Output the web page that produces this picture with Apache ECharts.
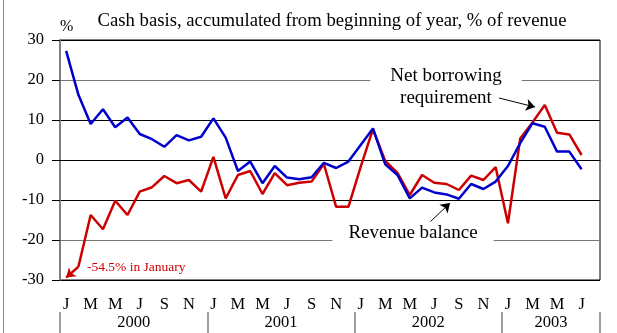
<!DOCTYPE html>
<html>
<head>
<meta charset="utf-8">
<script src="https://cdn.jsdelivr.net/npm/echarts@6/dist/echarts.min.js"></script>
<style>
  html, body { margin: 0; padding: 0; background: #fff; }
  #chart { width: 617px; height: 333px; }
</style>
</head>
<body>
<div id="chart"></div>
<script>
// categories: monthly, Jan 2000 .. Aug 2003 (last month has no data)
const years = ['2000', '2001', '2002', '2003']
const monthLetters = ['J', 'F', 'M', 'A', 'M', 'J', 'J', 'A', 'S', 'O', 'N', 'D']
const monthCount = 44

// % of revenue, accumulated from beginning of year
const revenueBalance = [
  27.3, 16.3, 9.0, 12.7, 8.2, 10.6, 6.5, 5.2, 3.3, 6.2, 4.9, 5.8,
  10.4, 5.6, -2.75, -0.4, -5.8, -1.5, -4.4, -4.8, -4.3, -0.7, -2.0, -0.4,
  3.75, 7.9, -1.1, -3.75, -9.6, -6.9, -8.1, -8.6, -9.7, -6.0, -7.25, -5.4,
  -1.5, 4.2, 9.2, 8.3, 2.1, 2.1, -2.3
]
const netBorrowing = [
  -54.5, -26.7, -13.75, -17.3, -10.2, -13.75, -7.9, -6.8, -4.0, -5.8, -5.0, -7.9,
  0.8, -9.6, -3.75, -2.75, -8.5, -3.3, -6.3, -5.7, -5.4, -1.0, -11.7, -11.7,
  -1.7, 7.7, -0.25, -3.2, -8.75, -3.75, -5.7, -6.0, -7.5, -3.9, -5.0, -1.8,
  -15.8, 5.4, 9.4, 13.75, 6.8, 6.4, 1.25
]

// y axis ticks
const yMin = -30
const yMax = 30
const yStep = 10

const FONT = "'Liberation Serif', 'Times New Roman', serif"

// month axis labels
const months = []
years.forEach(() => monthLetters.forEach(m => months.push(m)))
months.length = monthCount

// year axis on a half-month grid so labels sit mid-year and ticks at year breaks
const yearAxis = new Array(monthCount * 2 + 1).fill('')
years.forEach((y, k) => {
  const start = k * 12
  const end = Math.min(start + 12, monthCount)
  yearAxis[start + end] = y
})

const chart = echarts.init(document.getElementById('chart'))

const option = {
  animation: false,
  title: {
    text: 'Cash basis, accumulated from beginning of year, % of revenue',
    left: 327,
    top: 7,
    textAlign: 'center',
    textStyle: { fontFamily: FONT, fontSize: 18.7, fontWeight: 'normal', color: '#000' }
  },
  grid: {
    left: 60, right: 17, top: 40, bottom: 53,
    show: true, borderColor: '#000', borderWidth: 1
  },
  xAxis: [
    {
      type: 'category',
      data: months,
      axisLine: { lineStyle: { color: '#000', width: 1 } },
      axisTick: { alignWithLabel: true, interval: 0, length: 8, lineStyle: { color: '#808080', width: 1.5 } },
      axisLabel: { interval: 1, margin: 16, fontFamily: FONT, fontSize: 16.5, color: '#000' },
      splitLine: { show: false }
    },
    {
      type: 'category',
      data: yearAxis,
      boundaryGap: false,
      position: 'bottom',
      offset: 32,
      axisLine: { show: false },
      axisTick: {
        show: true, length: 21,
        interval: (idx) => idx % 24 === 0 || idx === monthCount * 2,
        lineStyle: { color: '#808080', width: 1.5 }
      },
      axisLabel: {
        interval: (idx, val) => val !== '',
        margin: 2, fontFamily: FONT, fontSize: 16.5, color: '#000'
      },
      splitLine: { show: false }
    }
  ],
  yAxis: {
    type: 'value',
    min: yMin, max: yMax, interval: yStep,
    name: '%',
    nameLocation: 'end',
    nameGap: 5,
    nameTextStyle: { align: 'left', fontFamily: FONT, fontSize: 16, color: '#000' },
    axisLine: { show: true, lineStyle: { color: '#808080', width: 2 } },
    axisTick: { show: true, length: 8, lineStyle: { color: '#000' } },
    axisLabel: { margin: 16, fontFamily: FONT, fontSize: 16.5, color: '#000' },
    splitLine: { lineStyle: { color: ['#000', '#777', '#000', '#333', '#000', '#777', '#000'], width: 1 } }
  },
  series: [
    {
      name: 'Net borrowing requirement',
      type: 'line',
      data: netBorrowing.map(v => (v < yMin ? null : v)),
      symbol: 'none',
      lineStyle: { color: '#CC0000', width: 2.5 },
      markLine: {
        silent: true,
        symbol: ['none', 'arrow'],
        symbolSize: 9,
        label: { show: false },
        lineStyle: { type: 'solid' },
        data: [
          // off-scale January value, drawn as an arrow to the axis floor
          [{ coord: [1, netBorrowing[1]] }, { coord: [0, yMin + 0.6], lineStyle: { color: '#CC0000', width: 2.5 } }],
          [{ x: 499, y: 98 }, { x: 535, y: 107, lineStyle: { color: '#000', width: 1 } }]
        ]
      }
    },
    {
      name: 'Revenue balance',
      type: 'line',
      data: revenueBalance,
      symbol: 'none',
      lineStyle: { color: '#0000CC', width: 2.5 },
      markLine: {
        silent: true,
        symbol: ['none', 'arrow'],
        symbolSize: 9,
        label: { show: false },
        lineStyle: { type: 'solid', color: '#000', width: 1 },
        data: [
          [{ x: 430, y: 222 }, { x: 450, y: 203 }]
        ]
      }
    }
  ],
  graphic: [
    {
      type: 'line', z: 100, silent: true,
      shape: { x1: 3.5, y1: 0, x2: 3.5, y2: 333 },
      style: { stroke: '#888', lineWidth: 1 }
    },
    {
      type: 'text', z: 100, silent: true,
      x: 446, y: 76,
      style: {
        text: 'Net borrowing',
        font: '19px ' + FONT, fill: '#000',
        align: 'center', verticalAlign: 'middle',
        backgroundColor: '#fff', padding: [2, 20]
      }
    },
    {
      type: 'text', z: 100, silent: true,
      x: 446, y: 98,
      style: {
        text: 'requirement',
        font: '19px ' + FONT, fill: '#000',
        align: 'center', verticalAlign: 'middle'
      }
    },
    {
      type: 'text', z: 100, silent: true,
      x: 413, y: 233,
      style: {
        text: 'Revenue balance',
        font: '19px ' + FONT, fill: '#000',
        align: 'center', verticalAlign: 'middle',
        backgroundColor: '#fff', padding: [2, 16]
      }
    },
    {
      type: 'text', z: 100, silent: true,
      x: 87, y: 267,
      style: {
        text: '-54.5% in January',
        font: '13.5px ' + FONT, fill: '#CC0000',
        align: 'left', verticalAlign: 'middle'
      }
    }
  ]
}

chart.setOption(option)
</script>
</body>
</html>
